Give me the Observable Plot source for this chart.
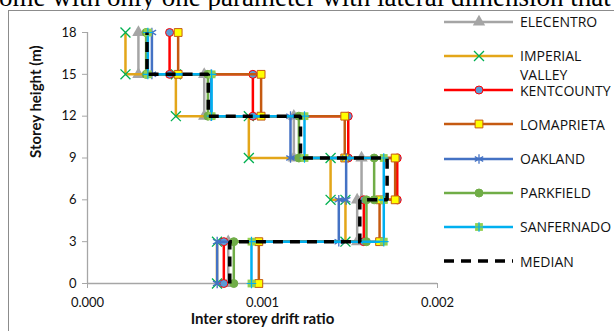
<!DOCTYPE html>
<html><head><meta charset="utf-8">
<script src="https://cdn.jsdelivr.net/npm/d3@7"></script>
<script src="https://cdn.jsdelivr.net/npm/@observablehq/plot@0.6"></script>
<style>
html,body{margin:0;padding:0;background:#fff;overflow:hidden;}
#wrap{position:relative;width:614px;height:331px;overflow:hidden;font-family:Lato,sans-serif;}
#toptext{position:absolute;left:-1px;top:-16px;font-family:"Liberation Serif",serif;font-size:27px;line-height:27px;white-space:nowrap;color:#000;}
#frame{position:absolute;left:8px;top:10px;width:700px;height:400px;border:1px solid #8c8c8c;box-sizing:border-box;background:#fff;}
#chart{position:absolute;left:0;top:0;}
#legend{position:absolute;left:0;top:0;width:614px;height:331px;}
.item{position:absolute;left:444px;width:170px;height:20px;}
.item svg{position:absolute;left:0;top:0;}
.item .lbl{position:absolute;left:76px;top:0px;width:94px;font-family:"Open Sans",sans-serif;font-size:14px;line-height:19px;color:#111;}
</style></head><body>
<div id="wrap">
<div id="toptext">ome with only one parameter with lateral dimension that</div>
<div id="frame"></div>
<div id="chart"></div>
<div id="legend"></div>
</div>
<script>
// Storey levels (m)
const storeys = [0, 3, 6, 9, 12, 15, 18];
// Series names
const seriesNames = ["ELECENTRO", "IMPERIAL VALLEY", "KENTCOUNTY", "LOMAPRIETA", "OAKLAND", "PARKFIELD", "SANFERNADO", "MEDIAN"];
// Inter storey drift ratio per storey band (0-3, 3-6, 6-9, 9-12, 12-15, 15-18)
const elecentro  = [0.000804, 0.001541, 0.001566, 0.001179, 0.000667, 0.000291];
const imperial   = [0.000740, 0.001474, 0.001389, 0.000922, 0.000505, 0.000217];
const kentcounty = [0.000779, 0.001579, 0.001770, 0.001490, 0.000945, 0.000469];
const lomaprieta = [0.000979, 0.001669, 0.001758, 0.001470, 0.000992, 0.000518];
const oakland    = [0.000741, 0.001436, 0.001478, 0.001160, 0.000706, 0.000368];
const parkfield  = [0.000836, 0.001594, 0.001638, 0.001208, 0.000688, 0.000335];
const sanfernado = [0.000937, 0.001693, 0.001693, 0.001240, 0.000709, 0.000345];
const median     = [0.000813, 0.001556, 0.001712, 0.001217, 0.000690, 0.000340];
// Tick values
const xTicks = [0, 0.001, 0.002];
const yTicks = [0, 3, 6, 9, 12, 15, 18];
const xLabel = "Inter storey drift ratio";
const yLabel = "Storey height (m)";

const seriesValues = [elecentro, imperial, kentcounty, lomaprieta, oakland, parkfield, sanfernado, median];

// styles
const styles = {
  "ELECENTRO":       {stroke:"#A5A5A5", symbol:"triangle", fill:"#A5A5A5", mstroke:"none", r:4.6},
  "IMPERIAL VALLEY": {stroke:"#E3A619", symbol:"times", fill:"none", mstroke:"#00B050", r:4.6},
  "KENTCOUNTY":      {stroke:"#FF0000", symbol:"circle", fill:"#5B9BD5", mstroke:"#FF0000", r:4},
  "LOMAPRIETA":      {stroke:"#C55A11", symbol:"square", fill:"#FFFF00", mstroke:"#C55A11", r:4.4},
  "OAKLAND":         {stroke:"#4472C4", symbol:"asterisk", fill:"none", mstroke:"#4472C4", r:4.6},
  "PARKFIELD":       {stroke:"#70AD47", symbol:"circle", fill:"#70AD47", mstroke:"#70AD47", r:4},
  "SANFERNADO":      {stroke:"#00B0F0", symbol:"square", fill:"#92D050", mstroke:"none", r:4.4, plus:"#00B0F0"},
  "MEDIAN":          {stroke:"#000000", dash:"10,7", width:3.5}
};

// Build stepped profile tables
const tables = seriesNames.map((name, si) => {
  const vals = seriesValues[si];
  const rows = [];
  vals.forEach((d, i) => {
    rows.push({series: name, drift: d, height: storeys[i]});
    rows.push({series: name, drift: d, height: storeys[i + 1]});
  });
  return rows;
});

const marks = [
  Plot.ruleY([0], {stroke:"#A6A6A6", strokeWidth:1.3}),
  Plot.ruleX([0], {stroke:"#A6A6A6", strokeWidth:1.3}),
  Plot.axisX({ticks: xTicks, tickFormat: d3.format(".3f"), tickSize: 5, tickPadding: 9, stroke:"#A6A6A6", fill:"#111", label: null, fontSize: 13}),
  Plot.axisY({ticks: yTicks, tickSize: 5, tickPadding: 6, stroke:"#A6A6A6", fill:"#111", label: null, fontSize: 13}),
  Plot.text([xLabel], {frameAnchor:"bottom", dy: 40, fontWeight:"bold", fontSize: 15, fill:"#111"}),
  Plot.text([yLabel], {frameAnchor:"left", dx: -51, rotate: -90, fontWeight:"bold", fontSize: 15, fill:"#111"})
];

seriesNames.forEach((name, si) => {
  const s = styles[name];
  const rows = tables[si];
  marks.push(Plot.line(rows, {x:"drift", y:"height", stroke:s.stroke, strokeWidth: s.width || 2.5,
    strokeDasharray: s.dash, strokeLinejoin:"miter", strokeLinecap: "butt", curve:"linear"}));
  if (s.symbol) {
    marks.push(Plot.dot(rows, {x:"drift", y:"height", symbol: s.symbol, r: s.r, fill: s.fill,
      stroke: s.mstroke, strokeWidth: (s.symbol === "times" || s.symbol === "asterisk") ? 1.3 : 1}));
    if (s.plus) {
      marks.push(Plot.dot(rows, {x:"drift", y:"height", symbol:"plus", r: 3.2, stroke: s.plus, strokeWidth: 1.2}));
    }
  }
});

const chart = Plot.plot({
  width: 614,
  height: 331,
  marginLeft: 87,
  marginRight: 177,
  marginTop: 32,
  marginBottom: 48,
  x: {domain: [0, 0.002]},
  y: {domain: [0, 18]},
  style: {fontFamily: "Lato, sans-serif", fontSize: "13px", background: "transparent", overflow: "visible"},
  marks
});
document.getElementById("chart").appendChild(chart);

// Legend
const symMap = {triangle: d3.symbolTriangle, times: d3.symbolTimes, circle: d3.symbolCircle,
  square: d3.symbolSquare, asterisk: d3.symbolAsterisk, plus: d3.symbolPlus};
const legend = d3.select("#legend");
seriesNames.forEach((name, i) => {
  const s = styles[name];
  const yc = 21.7 + i * 34.2;
  const item = legend.append("div").attr("class", "item").style("top", (yc - 10) + "px");
  const svg = item.append("svg").attr("width", 72).attr("height", 20);
  svg.append("line").attr("x1", 0).attr("x2", 69).attr("y1", 10).attr("y2", 10)
    .attr("stroke", s.stroke).attr("stroke-width", s.width || 2.5)
    .attr("stroke-dasharray", s.dash || null);
  if (s.symbol) {
    svg.append("path").attr("transform", "translate(35,10)")
      .attr("d", d3.symbol(symMap[s.symbol], s.r * s.r * Math.PI)())
      .attr("fill", s.fill).attr("stroke", s.mstroke)
      .attr("stroke-width", (s.symbol === "times" || s.symbol === "asterisk") ? 1.3 : 1);
    if (s.plus) {
      svg.append("path").attr("transform", "translate(35,10)")
        .attr("d", d3.symbol(d3.symbolPlus, 3.2 * 3.2 * Math.PI)())
        .attr("fill", "none").attr("stroke", s.plus).attr("stroke-width", 1.2);
    }
  }
  item.append("div").attr("class", "lbl").style("top", "0.5px").text(name);
});
</script>
</body></html>
